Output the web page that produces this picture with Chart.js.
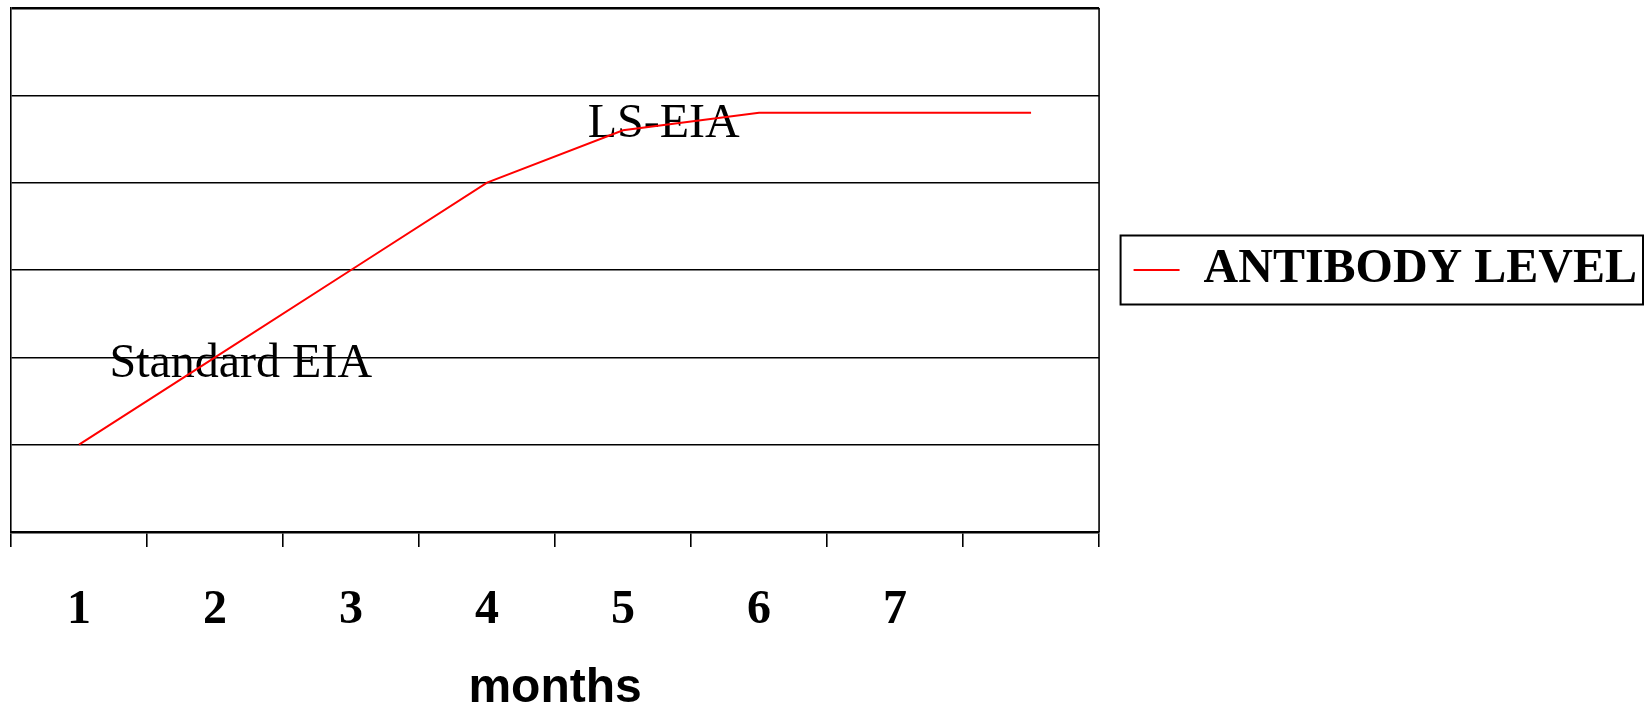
<!DOCTYPE html>
<html lang="en">
<head>
  <meta charset="UTF-8">
  <title>Antibody Level</title>
  <script src="https://cdn.jsdelivr.net/npm/chart.js"></script>
  <style>
    body {
      margin: 0;
      background: #fff;
    }
    #wrap {
      width: 1647px;
      height: 708px;
    }
  </style>
</head>
<body>
  <div id="wrap"><canvas id="antibodyChart" width="1647" height="708"></canvas></div>

  <script>
    const months = ['1', '2', '3', '4', '5', '6', '7', ''];
    const antibodyLevel = [1, 2, 3, 4, 4.6, 4.8, 4.8, 4.8];
    const seriesLabel = 'ANTIBODY LEVEL';
    const stageNotes = ['Standard EIA', 'LS-EIA'];

    // text labels sitting inside the plot (drawn under the red line)
    const notePlugin = {
      id: 'notes',
      beforeDatasetsDraw(chart) {
        const { ctx, scales: { x, y } } = chart;
        const spots = [[0.224, 1.77], [3.74, 4.52]];
        ctx.save();
        ctx.font = '48px "Liberation Serif"';
        ctx.fillStyle = '#000';
        ctx.textBaseline = 'alphabetic';
        stageNotes.forEach((t, i) => {
          ctx.fillText(t, x.getPixelForValue(spots[i][0]), y.getPixelForValue(spots[i][1]));
        });
        ctx.restore();
      }
    };

    // right edge of the plot frame and the box round the legend
    const framePlugin = {
      id: 'frame',
      beforeDatasetsDraw(chart) {
        const { ctx, chartArea: a } = chart;
        ctx.save();
        ctx.strokeStyle = '#000';
        ctx.lineWidth = 1.6;
        ctx.beginPath();
        ctx.moveTo(a.right, a.top);
        ctx.lineTo(a.right, a.bottom);
        ctx.stroke();
        ctx.restore();
      },
      afterDraw(chart) {
        const box = chart.legend.legendHitBoxes[0];
        if (!box) return;
        const ctx = chart.ctx;
        ctx.save();
        ctx.strokeStyle = '#000';
        ctx.lineWidth = 2;
        const cy = box.top + box.height / 2;
        ctx.strokeRect(box.left - 13, cy - 34.5, box.width + 19, 69);
        ctx.restore();
      }
    };

    const ctx = document.getElementById('antibodyChart').getContext('2d');
    new Chart(ctx, {
      type: 'line',
      data: {
        labels: months,
        datasets: [{
          label: seriesLabel,
          data: antibodyLevel,
          borderColor: '#ff0000',
          backgroundColor: '#ff0000',
          borderWidth: 2,
          pointRadius: 0,
          tension: 0,
          fill: false
        }]
      },
      options: {
        responsive: false,
        animation: false,
        layout: {
          padding: { left: 11, top: 8, right: 0, bottom: 0 }
        },
        plugins: {
          tooltip: { enabled: false },
          legend: {
            position: 'right',
            fullSize: false,
            maxWidth: 600,
            labels: {
              color: '#000',
              font: { family: 'Liberation Serif', size: 48, weight: 'bold' },
              usePointStyle: true,
              pointStyle: 'line',
              pointStyleWidth: 46,
              padding: 34.5
            }
          }
        },
        scales: {
          x: {
            offset: true,
            grid: {
              offset: true,
              drawOnChartArea: false,
              drawTicks: true,
              tickLength: 15,
              color: '#000',
              lineWidth: 1.6
            },
            border: { display: true, color: '#000', width: 2.5 },
            ticks: {
              color: '#000',
              font: { family: 'Liberation Serif', size: 48, weight: 'bold', lineHeight: 1 },
              padding: 40,
              maxRotation: 0,
              autoSkip: false
            },
            title: {
              display: true,
              text: 'months',
              color: '#000',
              font: { family: 'Liberation Sans', size: 48, weight: 'bold', lineHeight: 1 },
              padding: { top: -10, bottom: -5 }
            }
          },
          y: {
            min: 0,
            max: 6,
            ticks: { display: false, stepSize: 1 },
            grid: {
              color: '#000',
              lineWidth: c => (c.tick && c.tick.value === 6 ? 2.5 : 1.6),
              drawTicks: false
            },
            border: { display: true, color: '#000', width: 1.6 }
          }
        }
      },
      plugins: [notePlugin, framePlugin]
    });
  </script>
</body>
</html>
